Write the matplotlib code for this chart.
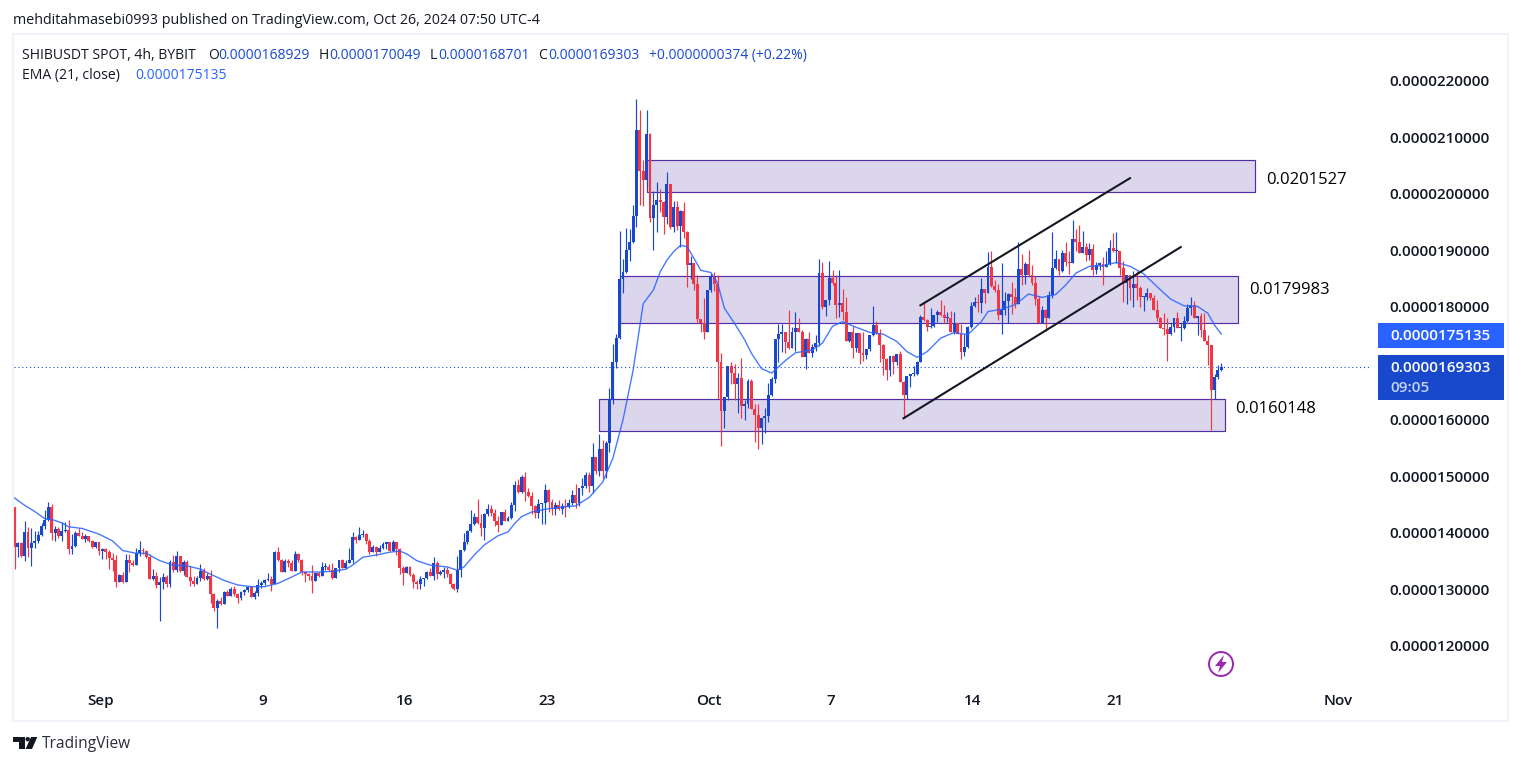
import matplotlib
matplotlib.use("Agg")
import matplotlib.pyplot as plt
from matplotlib.patches import Rectangle, Circle, Polygon

# prices are in units of 0.00000001 (1e-8)
first_open = 1446
closes = [
    1376,1382,1359,1402,1373,1382,1386,1396,1412,1423,
    1446,1400,1407,1395,1404,1405,1372,1377,1400,1395,
    1389,1395,1386,1375,1384,1368,1372,1367,1356,1352,
    1313,1326,1313,1352,1347,1343,1365,1370,1368,1358,
    1319,1324,1308,1313,1322,1310,1349,1335,1359,1333,
    1349,1322,1315,1310,1320,1333,1319,1324,1292,1267,
    1280,1274,1296,1288,1301,1292,1285,1296,1299,1304,
    1287,1294,1308,1311,1317,1319,1310,1366,1352,1331,
    1350,1347,1333,1363,1352,1331,1327,1324,1315,1329,
    1324,1340,1340,1335,1320,1338,1352,1338,1347,1352,
    1393,1388,1397,1398,1386,1366,1375,1366,1374,1381,
    1384,1368,1384,1372,1338,1329,1340,1326,1313,1310,
    1319,1320,1331,1324,1347,1327,1331,1335,1327,1310,
    1301,1335,1370,1384,1404,1416,1428,1418,1409,1434,
    1443,1435,1421,1414,1437,1421,1427,1450,1485,1473,
    1499,1473,1466,1448,1435,1451,1453,1476,1455,1443,
    1450,1443,1448,1446,1453,1467,1453,1480,1483,1503,
    1483,1534,1510,1549,1510,1559,1635,1703,1745,1850,
    1862,1901,1915,1961,2113,2041,2025,2106,1957,1980,
    1989,1986,1959,2018,1941,1977,1943,1970,1933,1874,
    1878,1841,1779,1771,1755,1830,1853,1841,1702,1616,
    1641,1696,1683,1664,1674,1625,1628,1669,1619,1609,
    1586,1604,1607,1644,1673,1743,1752,1756,1738,1727,
    1756,1763,1756,1711,1743,1719,1729,1736,1860,1800,
    1812,1851,1843,1804,1807,1791,1740,1756,1728,1754,
    1719,1715,1726,1751,1768,1754,1733,1708,1689,1713,
    1703,1717,1667,1644,1678,1682,1682,1703,1782,1777,
    1765,1766,1786,1791,1786,1781,1781,1756,1772,1752,
    1720,1729,1765,1802,1809,1807,1832,1825,1871,1837,
    1830,1786,1795,1811,1823,1818,1806,1868,1857,1876,
    1857,1843,1814,1771,1795,1781,1822,1869,1885,1864,
    1896,1880,1878,1921,1915,1896,1907,1892,1903,1866,
    1875,1876,1871,1876,1905,1899,1899,1869,1843,1857,
    1834,1841,1834,1818,1818,1825,1816,1795,1781,1763,
    1761,1753,1765,1781,1763,1763,1775,1799,1804,1781,
    1784,1760,1740,1733,1653,1676,1689,1693,
]
highs = [
    1446,1384,1384,1421,1411,1409,1404,1404,1418,1440,
    1454,1452,1412,1411,1420,1420,1423,1398,1404,1408,
    1402,1398,1395,1388,1384,1384,1373,1373,1370,1364,
    1361,1327,1331,1363,1363,1353,1373,1386,1373,1370,
    1363,1336,1331,1322,1329,1326,1352,1361,1368,1359,
    1352,1352,1342,1324,1324,1345,1338,1329,1334,1294,
    1283,1287,1297,1299,1304,1306,1294,1297,1301,1306,
    1306,1297,1319,1315,1319,1329,1324,1368,1375,1354,
    1354,1354,1352,1368,1365,1354,1333,1329,1343,1329,
    1331,1349,1347,1345,1347,1338,1352,1354,1352,1374,
    1402,1395,1411,1405,1400,1389,1379,1377,1379,1384,
    1384,1384,1388,1384,1374,1342,1342,1342,1329,1317,
    1324,1320,1333,1338,1358,1350,1335,1340,1340,1329,
    1312,1359,1370,1400,1405,1441,1435,1460,1434,1435,
    1451,1450,1443,1430,1437,1443,1430,1455,1492,1496,
    1503,1508,1480,1473,1450,1460,1453,1487,1478,1460,
    1455,1458,1453,1460,1460,1476,1487,1480,1497,1508,
    1508,1559,1534,1575,1565,1563,1657,1734,1752,1934,
    1885,1940,1938,1980,2168,2149,2060,2149,2108,2005,
    2021,2009,1987,2039,2018,1988,1988,1972,1986,1934,
    1890,1878,1857,1778,1816,1830,1860,1862,1857,1719,
    1641,1696,1703,1699,1683,1710,1635,1673,1673,1628,
    1628,1604,1621,1665,1676,1743,1770,1770,1756,1795,
    1765,1791,1781,1759,1745,1756,1735,1751,1885,1880,
    1812,1882,1866,1857,1866,1832,1818,1756,1766,1754,
    1754,1756,1726,1751,1802,1775,1761,1735,1710,1713,
    1715,1717,1722,1669,1678,1682,1696,1705,1785,1809,
    1779,1798,1786,1795,1813,1804,1791,1793,1791,1772,
    1770,1752,1766,1809,1818,1823,1851,1832,1897,1899,
    1848,1841,1878,1827,1825,1845,1834,1915,1894,1880,
    1901,1875,1854,1820,1802,1797,1829,1933,1901,1885,
    1901,1915,1899,1954,1938,1945,1935,1914,1914,1912,
    1880,1880,1889,1899,1919,1931,1933,1899,1881,1857,
    1857,1864,1864,1837,1820,1833,1825,1822,1813,1783,
    1790,1781,1772,1781,1791,1772,1784,1806,1818,1811,
    1784,1790,1790,1751,1733,1682,1698,1700,
]
lows = [
    1337,1358,1357,1351,1358,1342,1373,1382,1395,1407,
    1421,1388,1386,1392,1386,1402,1363,1363,1375,1394,
    1389,1384,1384,1373,1373,1361,1354,1354,1336,1333,
    1304,1313,1312,1313,1331,1342,1343,1359,1363,1356,
    1319,1316,1303,1244,1300,1304,1304,1331,1331,1331,
    1326,1322,1306,1306,1310,1315,1317,1316,1276,1262,
    1232,1273,1274,1288,1288,1288,1276,1281,1290,1296,
    1287,1283,1288,1303,1308,1315,1297,1310,1350,1331,
    1331,1340,1333,1333,1349,1326,1313,1317,1294,1315,
    1322,1324,1335,1333,1319,1320,1331,1338,1336,1347,
    1347,1382,1388,1393,1381,1363,1366,1359,1366,1372,
    1372,1368,1368,1361,1328,1308,1329,1324,1303,1301,
    1301,1306,1319,1324,1317,1319,1326,1320,1322,1304,
    1299,1296,1322,1368,1381,1402,1414,1416,1395,1388,
    1430,1430,1412,1402,1414,1421,1421,1425,1439,1471,
    1471,1457,1464,1434,1427,1427,1416,1416,1437,1432,
    1432,1441,1434,1428,1444,1450,1444,1448,1467,1480,
    1473,1470,1505,1500,1495,1497,1543,1628,1692,1743,
    1825,1860,1881,1913,1941,1980,1979,2012,1950,1901,
    1933,1968,1929,1947,1938,1933,1936,1906,1922,1835,
    1849,1830,1773,1756,1743,1755,1827,1828,1637,1554,
    1586,1635,1664,1635,1612,1604,1600,1621,1619,1561,
    1549,1558,1577,1596,1642,1665,1703,1720,1719,1726,
    1727,1722,1756,1711,1690,1719,1712,1722,1731,1797,
    1784,1804,1839,1781,1783,1777,1740,1738,1710,1720,
    1699,1705,1708,1722,1749,1752,1703,1680,1671,1678,
    1682,1697,1667,1603,1637,1658,1678,1680,1703,1775,
    1758,1763,1765,1774,1784,1772,1774,1756,1752,1752,
    1708,1713,1728,1763,1800,1791,1789,1807,1825,1836,
    1827,1777,1753,1786,1772,1788,1799,1806,1839,1841,
    1854,1839,1804,1771,1771,1758,1781,1816,1868,1857,
    1862,1873,1859,1878,1899,1896,1896,1882,1884,1857,
    1859,1866,1839,1871,1875,1898,1878,1857,1809,1806,
    1813,1800,1813,1800,1793,1813,1813,1795,1776,1763,
    1751,1705,1751,1756,1763,1740,1761,1774,1786,1781,
    1751,1747,1740,1698,1583,1637,1673,1687,
]

# EMA: candle index and value
ema_idx = [0,3,6,9,11,14,16,20,25,29,32,36,39,43,47,51,55,58,62,66,70,74,78,82,85,
           90,94,98,100,103,107,111,114,116,119,123,128,131,133,136,139,143,146,148,
           150,153,157,162,166,170,174,177,180,183,186,189,191,193,195,197,199,201,
           203,206,208,210,213,216,218,221,224,226,228,231,236,239,242,245,249,253,
           257,261,264,267,270,274,278,282,286,288,292,296,300,304,308,311,314,318,
           322,326,330,334,338,342,346,350,353,355,357]
ema_vals = [1462,1449,1438,1425,1424,1418,1411,1408,1398,1386,1369,1364,1364,1351,1343,
            1342,1336,1327,1316,1308,1305,1305,1311,1322,1331,1331,1332,1336,1343,1357,
            1361,1366,1368,1363,1351,1343,1340,1334,1340,1361,1379,1395,1402,1417,1429,
            1437,1442,1446,1448,1463,1490,1532,1600,1688,1806,1830,1862,1883,1898,1909,
            1907,1886,1865,1861,1842,1798,1771,1742,1718,1691,1683,1694,1705,1719,1724,
            1736,1766,1774,1764,1755,1752,1739,1721,1711,1721,1745,1755,1751,1774,1792,
            1796,1804,1823,1817,1822,1839,1860,1872,1873,1879,1872,1859,1836,1814,1802,
            1801,1789,1768,1752]

ytick_vals = [2200,2100,2000,1900,1800,1700,1600,1500,1400,1300,1200]
ytick_labels = ["0.0000220000","0.0000210000","0.0000200000","0.0000190000","0.0000180000",
                "0.0000170000","0.0000160000","0.0000150000","0.0000140000","0.0000130000","0.0000120000"]
xtick_vals = [25.5,73.5,115.5,157.5,205.5,241.5,283.5,325.5,391.5]
xtick_labels = ["Sep","9","16","23","Oct","7","14","21","Nov"]

# zones and channel lines, in candle index / price
zones = [(187,367,2004,2060,"0.0201527"),(179,362,1772,1855,"0.0179983"),(173,358,1580,1637,"0.0160148")]
zone_label_y = [2025,1830,1620]
channel_up = ([268,330],[1803,2028])
channel_down = ([263,345],[1603,1906])
last_price = 1693

RED = "#f23645"
BLUE = "#1848cc"
TEXT = "#131722"
FONT = "Open Sans"
W, H = 1522, 765

fig = plt.figure(figsize=(W/100, H/100), dpi=100, facecolor="white")
ax = fig.add_axes([14/W, 1-683/H, (1369-14)/W, (683-35)/H])
ax.set_xlim(-0.15, 400.7)
ax.set_ylim(1134.5, 2281.4)
for s in ax.spines.values():
    s.set_visible(False)

# candles
opens = [first_open] + closes[:-1]
xs = list(range(len(closes)))
colors = [BLUE if c >= o else RED for o, c in zip(opens, closes)]
bottoms = [min(o, c) for o, c in zip(opens, closes)]
heights = [max(abs(c-o), 2) for o, c in zip(opens, closes)]

for x0, x1, y0, y1, txt in zones:
    ax.add_patch(Rectangle((x0, y0), x1-x0, y1-y0, facecolor="#dcd6ed", edgecolor="#512da8", linewidth=0.85, zorder=1))
ax.axhline(last_price, color=BLUE, linewidth=0.8, linestyle=(0, (1, 2.5)), zorder=2)
ax.vlines(xs, lows, highs, colors=colors, linewidth=0.85, zorder=3)
ax.bar(xs, heights, bottom=bottoms, width=0.86, color=colors, linewidth=0, zorder=3)
ax.plot(ema_idx, ema_vals, color="#2962ff", linewidth=1.0, alpha=0.85, zorder=4)
ax.plot(channel_up[0], channel_up[1], color=TEXT, linewidth=1.5, zorder=5)
ax.plot(channel_down[0], channel_down[1], color=TEXT, linewidth=1.5, zorder=5)

for (x0, x1, y0, y1, txt), ly in zip(zones, zone_label_y):
    ax.text(x1+3.2, ly, txt, color="black", fontsize=12, family=FONT, va="center", ha="left", zorder=6)

ax.set_yticks(ytick_vals)
ax.set_yticklabels(ytick_labels, family=FONT, fontsize=11, color=TEXT, fontweight="semibold")
ax.yaxis.tick_right()
ax.tick_params(axis="y", length=0, pad=14.5)
ax.set_xticks(xtick_vals)
ax.set_xticklabels(xtick_labels, family=FONT, fontsize=11, color=TEXT, fontweight="semibold")
ax.tick_params(axis="x", length=0, pad=8)

# chrome is drawn in pixel coordinates
over = fig.add_axes([0, 0, 1, 1], facecolor="none")
over.set_xlim(0, W)
over.set_ylim(H, 0)
over.axis("off")
over.add_patch(Rectangle((13, 34), 1495, 687, fill=False, edgecolor="#f0f3fa", linewidth=1.5))

over.text(13, 20, "mehditahmasebi0993 published on TradingView.com, Oct 26, 2024 07:50 UTC-4",
          fontsize=10.3, family=FONT, color=TEXT, va="center")
over.text(22, 55, "SHIBUSDT SPOT, 4h, BYBIT", fontsize=10.1, family=FONT, color=TEXT, va="center")
legend_parts = [(208, "O", TEXT), (218, "0.0000168929", BLUE), (319, "H", TEXT), (329, "0.0000170049", BLUE),
                (430, "L", TEXT), (438, "0.0000168701", BLUE), (538, "C", TEXT), (548, "0.0000169303", BLUE),
                (649, "+0.0000000374 (+0.22%)", BLUE)]
for px, s, col in legend_parts:
    over.text(px, 55, s, fontsize=10, family=FONT, color=col, va="center")
over.text(22, 75, "EMA (21, close)", fontsize=10.1, family=FONT, color=TEXT, va="center")
over.text(135, 75, "0.0000175135", fontsize=10, family=FONT, color="#2962ff", va="center")

# price tags
over.add_patch(Rectangle((1378, 323), 126, 25, facecolor="#2962ff", edgecolor="none"))
over.text(1390, 336, "0.0000175135", color="white", fontsize=11, family=FONT, fontweight="semibold", va="center")
over.add_patch(Rectangle((1378, 355), 126, 45, facecolor=BLUE, edgecolor="none"))
over.text(1390, 368, "0.0000169303", color="white", fontsize=11, family=FONT, fontweight="semibold", va="center")
over.text(1390, 388, "09:05", color="#c5d2f2", fontsize=11, family=FONT, fontweight="semibold", va="center")

# lightning badge
over.add_patch(Circle((1221, 664), 12, fill=False, edgecolor="#9c27b0", linewidth=1.4))
over.add_patch(Polygon([(1224, 655), (1215, 666), (1220, 666), (1218, 673), (1227, 662), (1222, 662)],
                       facecolor="#9c27b0", edgecolor="none"))

# TradingView logo
over.add_patch(Polygon([(13.3, 737), (24.5, 737), (24.5, 749), (18.8, 749), (18.8, 741.5), (13.3, 741.5)],
                       facecolor=TEXT, edgecolor="none"))
over.add_patch(Circle((27.7, 739.2), 2.2, facecolor=TEXT, edgecolor="none"))
over.add_patch(Polygon([(31, 737), (37.3, 737), (32, 749), (25.6, 749)], facecolor=TEXT, edgecolor="none"))
over.text(42, 744, "TradingView", fontsize=11.2, family=FONT, color="#2a2e39", va="center")

fig.savefig("out.png", dpi=100)
